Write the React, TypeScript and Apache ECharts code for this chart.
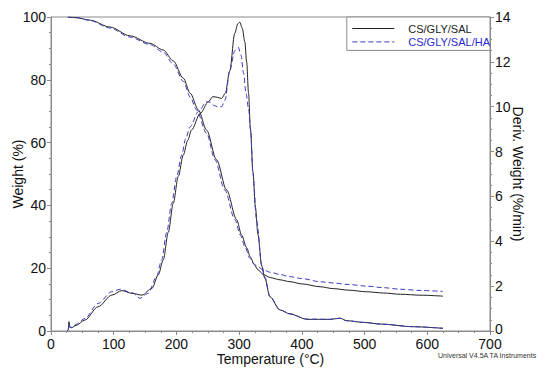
import React, { useEffect, useRef } from "react";
import * as echarts from "echarts";

// ---- Data ----
const seriesNames = ["CS/GLY/SAL", "CS/GLY/SAL/HA"];

// Weight (%) vs temperature (°C)
const wTempA = [27, 40, 62, 94, 126, 158, 179, 195, 211, 222, 235, 248, 264, 280, 296, 304, 312, 318, 324, 330, 339, 350, 365, 381, 400, 429, 450, 475, 503, 530, 557, 590, 625];
const weightA = [100, 99.8, 99, 96.8, 94, 91.6, 89.5, 86, 80.5, 75.7, 70.4, 64, 54.5, 44.9, 35.5, 30.5, 26.5, 23.5, 21.2, 19.5, 17.9, 17.0, 16.3, 15.7, 15.0, 14.1, 13.5, 13.0, 12.5, 12.1, 11.7, 11.4, 11.1];

const wTempB = [27, 40, 62, 94, 126, 158, 179, 195, 211, 222, 232, 248, 261.5, 277, 293.4, 302, 310, 317, 324, 330, 339, 350, 365, 381, 400, 429, 450, 475, 503, 530, 557, 590, 625];
const weightB = [100, 99.8, 98.9, 96.5, 93.6, 91.2, 88.8, 85, 79.5, 74.5, 70.4, 63, 54.5, 44.9, 35.4, 30.5, 26.5, 23.2, 21.3, 20.4, 19.4, 18.7, 18.0, 17.3, 16.7, 15.7, 15.3, 14.8, 14.3, 13.8, 13.3, 12.9, 12.6];

// Deriv. weight (%/min) vs temperature (°C)
const dTempA = [26, 27.5, 28.7, 30, 33, 40, 54, 75, 97, 113, 129, 145, 161, 171, 179, 187, 195, 203, 211, 218, 224, 238, 251, 258, 265, 272, 278, 285, 293, 298, 301, 305, 309, 312, 315, 318, 322, 326, 330, 336, 341, 349, 365, 381, 408, 445, 461, 471, 500, 525, 578, 625];
const derivA = [0.0, 0.05, 0.42, 0.2, 0.15, 0.25, 0.49, 1.08, 1.6, 1.8, 1.68, 1.6, 1.9, 2.5, 3.17, 4.4, 5.7, 6.9, 7.85, 8.5, 8.96, 9.7, 10.22, 10.45, 10.42, 10.37, 10.6, 11.6, 13.27, 13.7, 13.77, 13.5, 12.9, 12.0, 10.6, 9.0, 7.1, 5.5, 4.3, 2.9, 2.35, 1.53, 0.94, 0.76, 0.52, 0.52, 0.57, 0.46, 0.38, 0.31, 0.19, 0.12];

const dTempB = [26, 27.5, 28.5, 30, 33, 40, 54, 75, 97, 110, 129, 142, 155, 168, 176.5, 184.5, 192.5, 200.5, 208.4, 215, 221.6, 235, 248, 254, 260, 266, 272, 277.5, 285, 293, 298.7, 303, 307, 311, 315, 318.4, 322, 328, 336, 341, 349, 365, 381, 408, 445, 461, 471, 500, 525, 578, 625];
const derivB = [0.0, 0.05, 0.3, 0.15, 0.15, 0.3, 0.56, 1.23, 1.75, 1.86, 1.71, 1.46, 1.68, 2.4, 3.17, 4.4, 5.7, 6.9, 7.85, 8.6, 9.1, 9.78, 10.22, 10.2, 10.05, 10.0, 10.0, 10.3, 11.6, 12.5, 12.65, 12.3, 11.5, 10.6, 9.9, 8.96, 7.0, 4.9, 2.95, 2.4, 1.55, 0.95, 0.77, 0.53, 0.52, 0.57, 0.46, 0.38, 0.31, 0.19, 0.12];

const zip = (xs: number[], ys: number[]) => xs.map((x, i) => [x, ys[i]]);

const FONT = "'Liberation Sans', Arial, sans-serif";
const BLACK = "#222222";
const BLUE = "#3b3bc4";
const AXIS = "#8a8a8a";

export default function App() {
  const ref = useRef<HTMLDivElement>(null);
  useEffect(() => {
    if (!ref.current) return;
    const chart = echarts.init(ref.current, undefined, { renderer: "svg" });
    const axisCommon = {
      axisLine: { show: true, lineStyle: { color: AXIS, width: 1 } },
      axisTick: { show: true, inside: false, length: 4, lineStyle: { color: AXIS } },
      minorTick: { show: true, splitNumber: 4, length: 2, lineStyle: { color: AXIS } },
      splitLine: { show: false },
      axisLabel: { color: "#111", fontSize: 14, lineHeight: 12, fontFamily: FONT, margin: 5 },
      nameLocation: "middle" as const,
      nameMoveOverlap: false,
      nameTextStyle: { color: "#111", fontSize: 14, lineHeight: 12, fontFamily: FONT },
    };
    const solid = { color: BLACK, width: 1, type: "solid" as const };
    const dashed = { color: BLUE, width: 1, type: [5, 3] as any };
    const lineCommon = {
      type: "line" as const,
      showSymbol: false,
      symbol: "none",
      smooth: 0.3,
      smoothMonotone: "x" as const,
      silent: true,
    };
    chart.setOption({
      animation: false,
      backgroundColor: "#fff",
      textStyle: { fontFamily: FONT },
      grid: {
        left: 51, right: 60, top: 17, bottom: 41,
        show: true, borderColor: AXIS, borderWidth: 1, backgroundColor: "transparent",
      },
      legend: {
        right: 60,
        top: 17,
        orient: "vertical",
        align: "left",
        itemWidth: 42,
        itemHeight: 11,
        itemGap: 2.4,
        padding: [6, 0, 3, 5],
        borderColor: AXIS,
        borderWidth: 1,
        borderRadius: 0,
        backgroundColor: "#fff",
        itemStyle: { opacity: 0 },
        lineStyle: { width: 1 },
        textStyle: { fontSize: 11, fontFamily: FONT, padding: [0, 0, 0, 9] },
        data: [
          { name: seriesNames[0], textStyle: { color: "#222" } },
          { name: seriesNames[1], textStyle: { color: "#2a2ad0" } },
        ],
        selectedMode: false,
      },
      xAxis: {
        ...axisCommon,
        type: "value",
        min: 0,
        max: 700,
        interval: 100,
        name: "Temperature (°C)",
        nameGap: 22,
        axisLabel: { ...axisCommon.axisLabel, margin: 7 },
      },
      yAxis: [
        {
          ...axisCommon,
          type: "value",
          position: "left",
          min: 0,
          max: 100,
          interval: 20,
          name: "Weight (%)",
          nameGap: 27,
        },
        {
          ...axisCommon,
          type: "value",
          position: "right",
          min: 0,
          max: 14,
          interval: 2,
          name: "Deriv. Weight (%/min)",
          nameGap: 22,
          nameRotate: -90,
          axisLabel: {
            ...axisCommon.axisLabel,
            margin: 5,
            formatter: (v: number) => (v === 0 ? "{z|0}" : String(v)),
            rich: { z: { fontSize: 14, lineHeight: 12, fontFamily: FONT, color: "#111", padding: [0, 0, 5, 0] } },
          },
        },
      ],
      graphic: [
        {
          type: "text",
          left: 438,
          top: 352,
          style: { text: "Universal V4.5A TA Instruments", fontSize: 7, fontFamily: FONT, fill: "#333" },
        },
      ],
      series: [
        { ...lineCommon, name: seriesNames[0], yAxisIndex: 0, data: zip(wTempA, weightA), lineStyle: solid, itemStyle: { color: BLACK } },
        { ...lineCommon, name: seriesNames[1], yAxisIndex: 0, data: zip(wTempB, weightB), lineStyle: dashed, itemStyle: { color: BLUE } },
        { ...lineCommon, name: seriesNames[0], yAxisIndex: 1, data: zip(dTempA, derivA), lineStyle: solid, itemStyle: { color: BLACK } },
        { ...lineCommon, name: seriesNames[1], yAxisIndex: 1, data: zip(dTempB, derivB), lineStyle: dashed, itemStyle: { color: BLUE } },
      ],
    });
    return () => chart.dispose();
  }, []);
  return (
    <div
      ref={ref}
      style={{ position: "absolute", left: 0, top: 0, width: 550, height: 372, background: "#fff" }}
    />
  );
}
